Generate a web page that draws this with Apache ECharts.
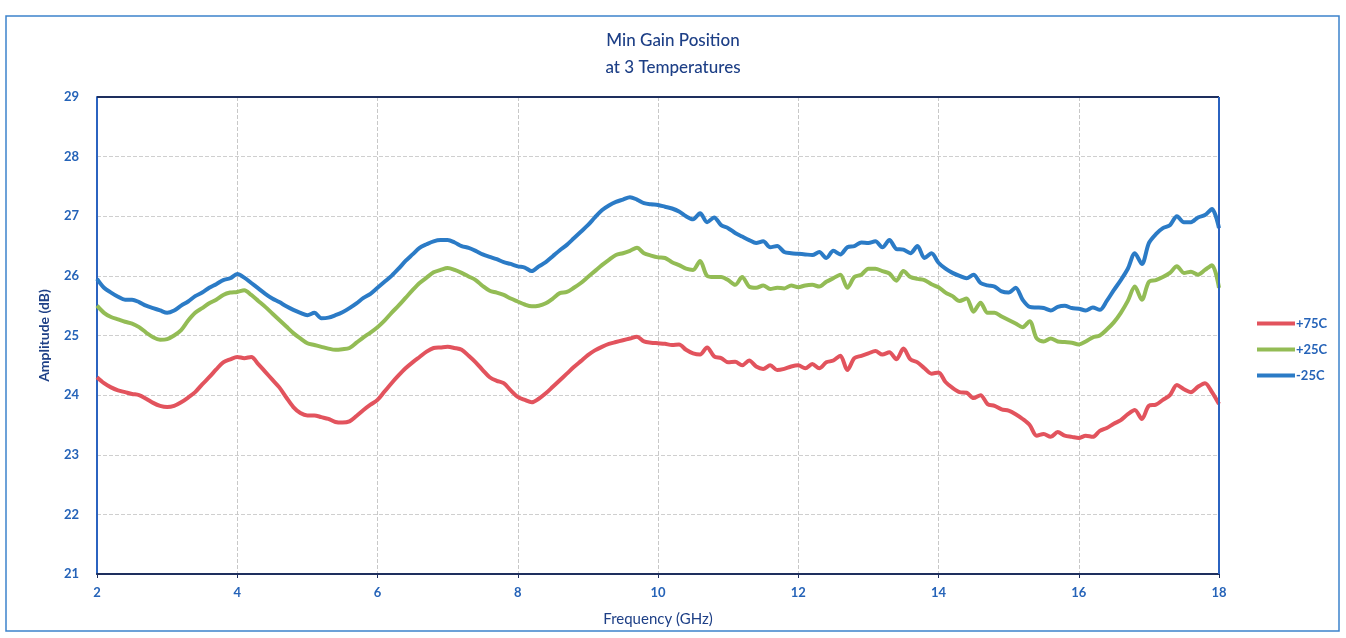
<!DOCTYPE html>
<html><head><meta charset="utf-8">
<script src="https://cdn.jsdelivr.net/npm/echarts@6/dist/echarts.min.js"></script>
<style>html,body{margin:0;padding:0;background:#fff}#c{width:1346px;height:638px}</style>
</head><body><div id="c"></div>
<script>
const freq = [2.0,2.1,2.2,2.3,2.4,2.5,2.6,2.7,2.8,2.9,3.0,3.1,3.2,3.3,3.4,3.5,3.6,3.7,3.8,3.9,4.0,4.1,4.2,4.3,4.4,4.5,4.6,4.7,4.8,4.9,5.0,5.1,5.2,5.3,5.4,5.5,5.6,5.7,5.8,5.9,6.0,6.1,6.2,6.3,6.4,6.5,6.6,6.7,6.8,6.9,7.0,7.1,7.2,7.3,7.4,7.5,7.6,7.7,7.8,7.9,8.0,8.1,8.2,8.3,8.4,8.5,8.6,8.7,8.8,8.9,9.0,9.1,9.2,9.3,9.4,9.5,9.6,9.7,9.8,9.9,10.0,10.1,10.2,10.3,10.4,10.5,10.6,10.7,10.8,10.9,11.0,11.1,11.2,11.3,11.4,11.5,11.6,11.7,11.8,11.9,12.0,12.1,12.2,12.3,12.4,12.5,12.6,12.7,12.8,12.9,13.0,13.1,13.2,13.3,13.4,13.5,13.6,13.7,13.8,13.9,14.0,14.1,14.2,14.3,14.4,14.5,14.6,14.7,14.8,14.9,15.0,15.1,15.2,15.3,15.4,15.5,15.6,15.7,15.8,15.9,16.0,16.1,16.2,16.3,16.4,16.5,16.6,16.7,16.8,16.9,17.0,17.1,17.2,17.3,17.4,17.5,17.6,17.7,17.8,17.9,18.0];

const minus25 = [25.95,25.8,25.72,25.65,25.6,25.6,25.56,25.5,25.46,25.42,25.38,25.42,25.5,25.57,25.66,25.72,25.8,25.86,25.93,25.96,26.03,25.97,25.88,25.79,25.7,25.62,25.56,25.49,25.43,25.38,25.34,25.38,25.29,25.3,25.34,25.39,25.46,25.54,25.63,25.7,25.8,25.9,26.0,26.12,26.25,26.36,26.47,26.53,26.58,26.6,26.6,26.56,26.5,26.47,26.42,26.36,26.32,26.28,26.23,26.2,26.16,26.14,26.08,26.16,26.23,26.33,26.43,26.52,26.63,26.74,26.85,26.98,27.1,27.18,27.24,27.28,27.32,27.28,27.22,27.2,27.19,27.16,27.13,27.08,27.0,26.95,27.05,26.9,26.98,26.85,26.8,26.72,26.66,26.6,26.55,26.58,26.48,26.5,26.4,26.38,26.37,26.36,26.35,26.4,26.3,26.42,26.36,26.48,26.5,26.56,26.55,26.58,26.48,26.6,26.45,26.44,26.38,26.5,26.3,26.38,26.22,26.12,26.05,26.0,25.96,26.02,25.88,25.84,25.82,25.74,25.72,25.8,25.6,25.48,25.47,25.46,25.42,25.48,25.5,25.46,25.45,25.42,25.47,25.43,25.58,25.76,25.93,26.12,26.38,26.2,26.55,26.7,26.8,26.85,27.0,26.9,26.9,26.98,27.02,27.12,26.8];

const plus25 = [25.5,25.38,25.31,25.27,25.23,25.2,25.14,25.05,24.97,24.93,24.94,25.0,25.09,25.25,25.38,25.46,25.54,25.6,25.68,25.72,25.73,25.76,25.68,25.58,25.48,25.37,25.26,25.15,25.04,24.95,24.87,24.84,24.81,24.78,24.76,24.77,24.79,24.88,24.97,25.05,25.14,25.25,25.38,25.5,25.63,25.76,25.88,25.97,26.06,26.1,26.13,26.1,26.05,25.99,25.93,25.83,25.75,25.72,25.68,25.62,25.57,25.52,25.49,25.5,25.54,25.62,25.71,25.73,25.8,25.88,25.98,26.08,26.18,26.27,26.35,26.38,26.42,26.47,26.38,26.34,26.31,26.3,26.23,26.18,26.12,26.1,26.25,26.0,25.98,25.98,25.93,25.85,25.98,25.82,25.8,25.84,25.78,25.8,25.79,25.84,25.81,25.84,25.85,25.82,25.9,25.96,26.02,25.8,25.98,26.02,26.12,26.12,26.08,26.04,25.92,26.08,25.98,25.95,25.93,25.86,25.81,25.72,25.66,25.58,25.62,25.4,25.55,25.38,25.38,25.32,25.26,25.2,25.14,25.24,24.95,24.9,24.95,24.9,24.89,24.88,24.85,24.9,24.97,25.0,25.1,25.22,25.38,25.58,25.82,25.6,25.9,25.93,25.98,26.05,26.16,26.05,26.07,26.02,26.1,26.18,25.8];

const plus75 = [24.3,24.2,24.13,24.08,24.05,24.02,24.0,23.94,23.87,23.82,23.8,23.82,23.88,23.96,24.05,24.18,24.3,24.43,24.55,24.6,24.64,24.62,24.64,24.52,24.39,24.26,24.13,23.96,23.8,23.7,23.66,23.66,23.63,23.6,23.55,23.54,23.56,23.65,23.75,23.84,23.92,24.06,24.2,24.33,24.45,24.55,24.64,24.73,24.79,24.8,24.81,24.79,24.76,24.66,24.55,24.42,24.3,24.24,24.2,24.08,23.97,23.92,23.88,23.94,24.03,24.14,24.25,24.36,24.47,24.57,24.67,24.75,24.81,24.86,24.89,24.92,24.95,24.98,24.9,24.88,24.87,24.86,24.84,24.85,24.76,24.7,24.68,24.8,24.65,24.62,24.55,24.56,24.5,24.58,24.48,24.44,24.5,24.42,24.44,24.48,24.5,24.45,24.52,24.45,24.55,24.58,24.66,24.42,24.62,24.66,24.7,24.74,24.68,24.72,24.6,24.78,24.6,24.55,24.45,24.36,24.38,24.22,24.12,24.05,24.04,23.95,24.0,23.85,23.82,23.76,23.74,23.68,23.6,23.5,23.32,23.35,23.3,23.38,23.32,23.3,23.28,23.32,23.3,23.4,23.45,23.52,23.58,23.68,23.75,23.6,23.82,23.84,23.92,24.0,24.17,24.1,24.05,24.14,24.2,24.05,23.85];

const seriesNames = ['+75C','+25C','-25C'];
const seriesColors = ['#e2535d','#93bc55','#2b7bc6'];
const titleLines = ['Min Gain Position','at 3 Temperatures'];

const chart = echarts.init(document.getElementById('c'));
const pairs = arr => arr.map((v,i)=>[freq[i],v]);
const lbl = {color:'#2563b8',fontFamily:'Lato, sans-serif',fontSize:13,fontWeight:'bold'};
chart.setOption({
  animation:false,
  backgroundColor:'#fff',
  graphic:[
    {type:'rect',shape:{x:6,y:16,width:1333,height:615},style:{fill:'none',stroke:'#3c82cc',lineWidth:1.5}},
    {type:'line',z:100,shape:{x1:97,y1:97,x2:1219,y2:97},style:{stroke:'#1e2f5e',lineWidth:2}},
    {type:'line',z:100,shape:{x1:1219,y1:97,x2:1219,y2:574},style:{stroke:'#2b63c0',lineWidth:2}}
  ],
  title:{text:titleLines.join('\n'),left:'center',top:22,
    textStyle:{color:'#1d3f86',fontFamily:'Lato, sans-serif',fontSize:17,fontWeight:500,lineHeight:27}},
  legend:{orient:'vertical',left:1252,top:312,itemGap:13,itemWidth:38,itemHeight:4,icon:'rect',
    textStyle:{color:'#2563b8',fontFamily:'Lato, sans-serif',fontSize:13,fontWeight:'bold',padding:[0,0,0,-4]},
    data:seriesNames},
  grid:{left:97,right:127,top:97,bottom:64,show:false},
  xAxis:{type:'value',min:2,max:18,interval:2,
    name:'Frequency (GHz)',nameLocation:'middle',nameGap:38,
    nameTextStyle:{color:'#1d3f86',fontFamily:'Lato, sans-serif',fontSize:15},
    axisLine:{lineStyle:{color:'#1e2f5e',width:2}},axisTick:{show:true,length:4,lineStyle:{color:'#1e2f5e'}},
    axisLabel:Object.assign({margin:12},lbl),
    splitLine:{show:true,lineStyle:{color:'#c8c8c8',type:[4,2],width:1}}},
  yAxis:{type:'value',min:21,max:29,interval:1,
    name:'Amplitude (dB)',nameLocation:'middle',nameGap:46,
    nameTextStyle:{color:'#1d3f86',fontFamily:'Lato, sans-serif',fontSize:14,fontWeight:'bold'},
    axisLine:{show:true,lineStyle:{color:'#2b63c0',width:2}},axisTick:{show:false},
    axisLabel:Object.assign({margin:18},lbl),
    splitLine:{show:true,lineStyle:{color:'#cfcfcf',type:[4,2],width:1}}},
  series:[
    {name:seriesNames[0],type:'line',data:pairs(plus75),showSymbol:false,smooth:0.3,lineStyle:{width:4,color:seriesColors[0]},itemStyle:{color:seriesColors[0]}},
    {name:seriesNames[1],type:'line',data:pairs(plus25),showSymbol:false,smooth:0.3,lineStyle:{width:4,color:seriesColors[1]},itemStyle:{color:seriesColors[1]}},
    {name:seriesNames[2],type:'line',data:pairs(minus25),showSymbol:false,smooth:0.3,lineStyle:{width:4,color:seriesColors[2]},itemStyle:{color:seriesColors[2]}}
  ]
});
</script></body></html>
